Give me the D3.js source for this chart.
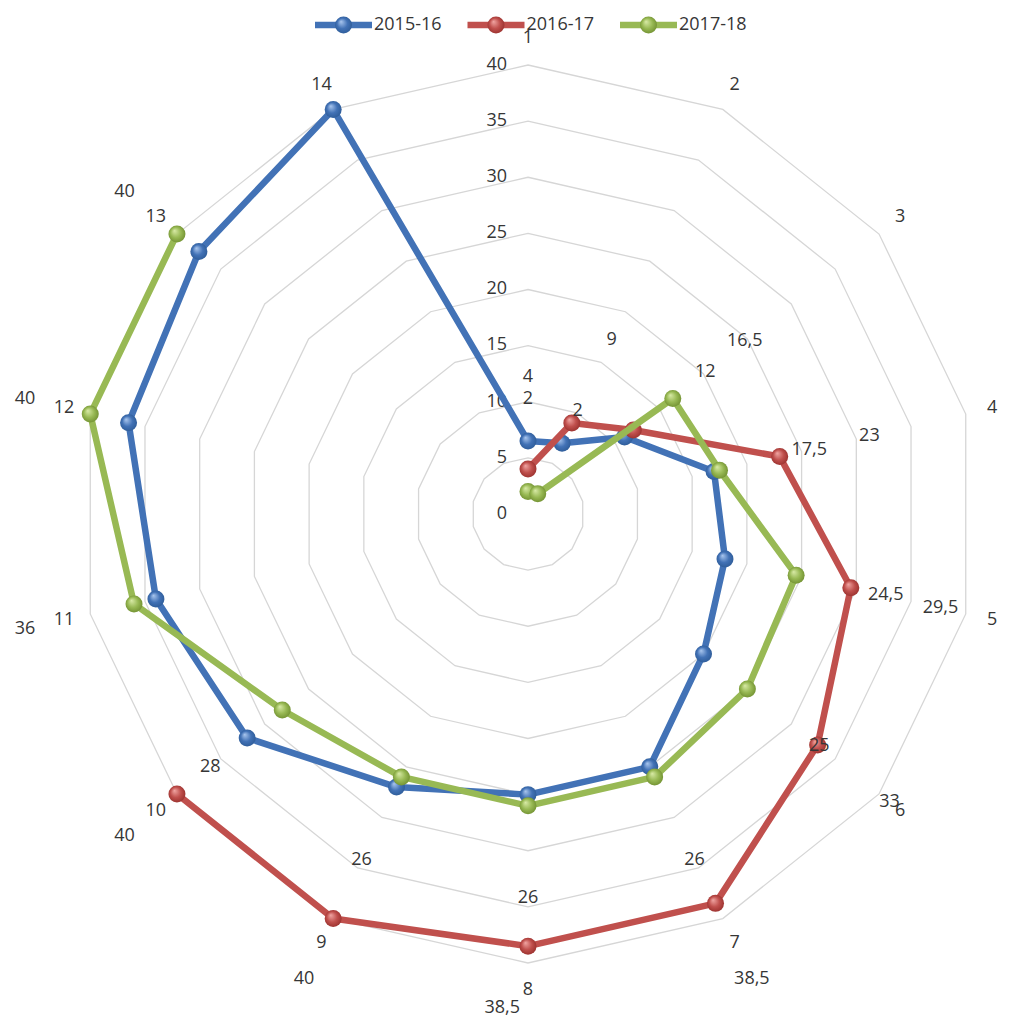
<!DOCTYPE html>
<html>
<head>
<meta charset="utf-8">
<script src="https://cdn.jsdelivr.net/npm/d3@7"></script>
<style>
  body { margin: 0; background: #fff; }
  text { font-family: "Open Sans", sans-serif; fill: #363636; }
</style>
</head>
<body>
<div id="chart"></div>
<script>
// categories 1..14 round the radar
var categories = ["1","2","3","4","5","6","7","8","9","10","11","12","13","14"];
var seriesNames = ["2015-16", "2016-17", "2017-18"];
var values1516 = [6.5, 7, 11, 17, 18, 20, 25, 25, 27, 32, 34, 36.5, 37.5, 40];
var values1617 = [4, 9, 12, 23, 29.5, 33, 38.5, 38.5, 40, 40, null, null, null, null];
var values1718 = [2, 2, 16.5, 17.5, 24.5, 25, 26, 26, 26, 28, 36, 40, 40, null];
var ticks = [0, 5, 10, 15, 20, 25, 30, 35, 40];
var labelledSeries = ["2016-17", "2017-18"];

var width = 1011, height = 1025;
var cx = 528, cy = 514, outerRadius = 449;
var catRadius = 476, labelGap = 92, labelMax = 516;

// colours: line, light, dark for the ball markers
var colors = {
  "2015-16": {line: "#4272b6", light: "#a9c6ee", dark: "#2c5a96"},
  "2016-17": {line: "#c0504d", light: "#f0a5a2", dark: "#982f2c"},
  "2017-18": {line: "#98b954", light: "#d8eaa6", dark: "#6f8e2f"}
};

var series = [
  {name: "2015-16", values: values1516},
  {name: "2016-17", values: values1617},
  {name: "2017-18", values: values1718}
];

var svg = d3.select("#chart").append("svg")
  .attr("width", width)
  .attr("height", height);

var defs = svg.append("defs");
seriesNames.forEach(function(n, i) {
  var g = defs.append("radialGradient")
    .attr("id", "ball" + i)
    .attr("cx", "50%").attr("cy", "50%").attr("r", "55%")
    .attr("fx", "35%").attr("fy", "30%");
  g.append("stop").attr("offset", "0%").attr("stop-color", colors[n].light);
  g.append("stop").attr("offset", "55%").attr("stop-color", colors[n].line);
  g.append("stop").attr("offset", "100%").attr("stop-color", colors[n].dark);
});

var angle = d3.scalePoint()
  .domain(categories.concat(["_end"]))
  .range([0, 2 * Math.PI]);

var r = d3.scaleLinear()
  .domain([0, 40])
  .range([0, outerRadius]);

var g = svg.append("g")
  .attr("transform", "translate(" + cx + "," + cy + ")");

// grid rings
var ring = d3.lineRadial()
  .angle(function(d) { return angle(d); })
  .curve(d3.curveLinearClosed);

g.append("g")
  .selectAll("path")
  .data(ticks.filter(function(t) { return t > 0; }))
  .enter()
  .append("path")
  .attr("d", function(t) { return ring.radius(r(t))(categories); })
  .attr("fill", "none")
  .attr("stroke", "#d6d6d6")
  .attr("stroke-width", 1.3);

// value ticks along the top spoke
g.append("g")
  .selectAll("text")
  .data(ticks)
  .enter()
  .append("text")
  .attr("x", -21)
  .attr("y", function(t) { return -r(t); })
  .attr("text-anchor", "end")
  .attr("dominant-baseline", "middle")
  .style("font-size", "18px")
  .text(function(t) { return t; });

// category labels
g.append("g")
  .selectAll("text")
  .data(categories)
  .enter()
  .append("text")
  .attr("x", function(c) { return catRadius * Math.sin(angle(c)); })
  .attr("y", function(c) { return -catRadius * Math.cos(angle(c)); })
  .attr("text-anchor", "middle")
  .attr("dominant-baseline", "middle")
  .style("font-size", "18px")
  .text(function(c) { return c; });

// series lines and markers
series.forEach(function(s, i) {
  var pts = s.values.map(function(v, k) { return {cat: categories[k], v: v}; });
  var complete = pts.every(function(p) { return p.v != null; });
  var line = d3.lineRadial()
    .defined(function(p) { return p.v != null; })
    .angle(function(p) { return angle(p.cat); })
    .radius(function(p) { return r(p.v); })
    .curve(complete ? d3.curveLinearClosed : d3.curveLinear);

  var sg = g.append("g");
  sg.append("path")
    .attr("d", line(pts))
    .attr("fill", "none")
    .attr("stroke", colors[s.name].line)
    .attr("stroke-width", 6.5)
    .attr("stroke-linejoin", "round");

  sg.selectAll("circle")
    .data(pts.filter(function(p) { return p.v != null; }))
    .enter()
    .append("circle")
    .attr("cx", function(p) { return r(p.v) * Math.sin(angle(p.cat)); })
    .attr("cy", function(p) { return -r(p.v) * Math.cos(angle(p.cat)); })
    .attr("r", 8.5)
    .attr("fill", "url(#ball" + i + ")");
});

// data labels (only 2016-17 and 2017-18 carry them), pushed out past the point
function labelPos(p) {
  var a = angle(p.cat);
  var rr = Math.min(r(p.v) + labelGap, labelMax);
  // on the left side keep clear of the category label
  if (Math.sin(a) < 0 && Math.abs(rr - catRadius) < 25) rr = labelMax;
  var x = rr * Math.sin(a), y = -rr * Math.cos(a);
  var bottom = 1008 - cy;
  var clipped = y > bottom;
  return {x: clipped ? x - 8 : x, y: Math.min(bottom, y), anchor: clipped ? "end" : "middle"};
}

series.filter(function(s) { return labelledSeries.indexOf(s.name) >= 0; }).forEach(function(s) {
  var pts = s.values.map(function(v, k) { return {cat: categories[k], v: v}; })
    .filter(function(p) { return p.v != null; });
  g.append("g")
    .selectAll("text")
    .data(pts)
    .enter()
    .append("text")
    .attr("x", function(p) { return labelPos(p).x; })
    .attr("y", function(p) { return labelPos(p).y; })
    .attr("text-anchor", function(p) { return labelPos(p).anchor; })
    .attr("dominant-baseline", "middle")
    .style("font-size", "18px")
    .text(function(p) { return String(p.v).replace(".", ","); });
});

// legend
var legendX = d3.scalePoint()
  .domain(seriesNames)
  .range([315, 620]);

var legend = svg.append("g")
  .selectAll("g")
  .data(seriesNames)
  .enter()
  .append("g")
  .attr("transform", function(n) { return "translate(" + legendX(n) + ",25)"; });

legend.append("line")
  .attr("x1", 0).attr("x2", 57)
  .attr("stroke", function(n) { return colors[n].line; })
  .attr("stroke-width", 6.5);

legend.append("circle")
  .attr("cx", 28.5)
  .attr("r", 8.5)
  .attr("fill", function(n, i) { return "url(#ball" + i + ")"; });

legend.append("text")
  .attr("x", 59)
  .attr("dominant-baseline", "middle")
  .style("font-size", "18px")
  .text(function(n) { return n; });
</script>
</body>
</html>
